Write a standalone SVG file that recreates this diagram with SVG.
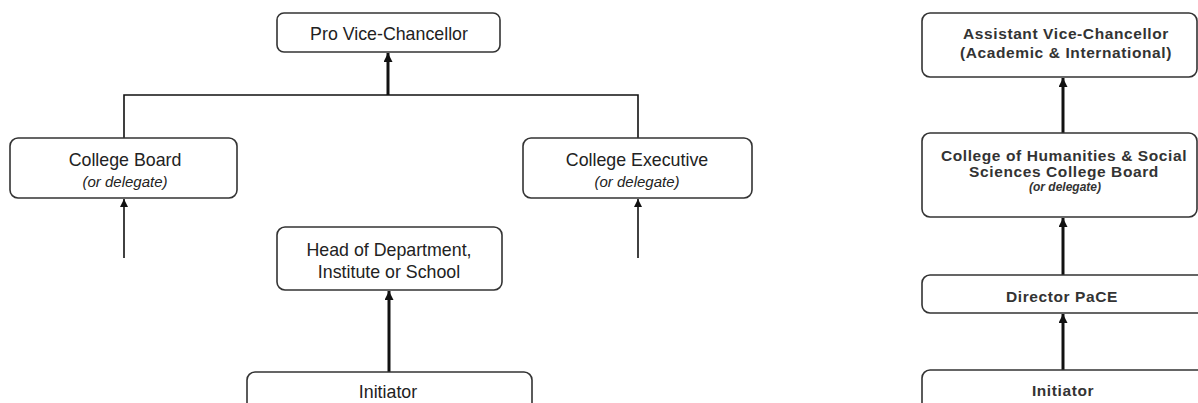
<svg xmlns="http://www.w3.org/2000/svg" width="1198" height="403" viewBox="0 0 1198 403">
<style>
.box{fill:#fff;stroke:#333;stroke-width:1.6}
.t{font-family:"Liberation Sans",Arial,sans-serif;font-size:17.8px;fill:#222;text-anchor:middle}
.ti{font-family:"Liberation Sans",Arial,sans-serif;font-size:15px;font-style:italic;fill:#222;text-anchor:middle}
.tb{font-family:"Liberation Sans",Arial,sans-serif;font-size:15.5px;font-weight:bold;fill:#333;text-anchor:middle;letter-spacing:0.6px}
.tbi{font-family:"Liberation Sans",Arial,sans-serif;font-size:12px;font-weight:bold;font-style:italic;fill:#333;text-anchor:middle}
.ln{fill:none;stroke:#111;stroke-width:1.6}
.lnt{fill:none;stroke:#111;stroke-width:3}
</style>
<defs>
<marker id="ah" viewBox="0 0 10 10" refX="10" refY="5" markerWidth="8" markerHeight="8" markerUnits="userSpaceOnUse" orient="auto">
<path d="M0,0 L10,5 L0,10 z" fill="#111"/>
</marker>
<marker id="ah2" viewBox="0 0 10 10" refX="10" refY="5" markerWidth="9" markerHeight="9" markerUnits="userSpaceOnUse" orient="auto">
<path d="M0,0 L10,5 L0,10 z" fill="#111"/>
</marker>
</defs>
<rect width="1198" height="403" fill="#fff"/>
<g id="connectors">
<path class="ln" d="M124,138 V95 H638 V138"/>
<path class="lnt" d="M388,95 V53" marker-end="url(#ah2)"/>
<path class="ln" d="M124,258 V199" marker-end="url(#ah)"/>
<path class="ln" d="M638,258 V199" marker-end="url(#ah)"/>
<path class="lnt" d="M389,372 V291" marker-end="url(#ah2)"/>
<path class="lnt" d="M1063,133 V78" marker-end="url(#ah2)"/>
<path class="lnt" d="M1063,275 V218" marker-end="url(#ah2)"/>
<path class="lnt" d="M1063,370 V314" marker-end="url(#ah2)"/>
</g>
<g id="pvc">
<rect class="box" x="277" y="13" width="223" height="39" rx="7"/>
<text class="t" x="389" y="40">Pro Vice-Chancellor</text>
</g>
<g id="college-board">
<rect class="box" x="10" y="138" width="227" height="60" rx="8"/>
<text class="t" x="125" y="166">College Board</text>
<text class="ti" x="125" y="187">(or delegate)</text>
</g>
<g id="college-executive">
<rect class="box" x="523" y="138" width="229" height="60" rx="8"/>
<text class="t" x="637" y="166">College Executive</text>
<text class="ti" x="637" y="187">(or delegate)</text>
</g>
<g id="hod">
<rect class="box" x="277" y="227" width="225" height="63" rx="8"/>
<text class="t" x="389" y="256">Head of Department,</text>
<text class="t" x="389" y="278">Institute or School</text>
</g>
<g id="initiator-left">
<rect class="box" x="247" y="372" width="285" height="60" rx="8"/>
<text class="t" x="388" y="398">Initiator</text>
</g>
<g id="avc">
<rect class="box" x="922" y="13" width="275" height="64" rx="8"/>
<text class="tb" x="1066" y="39">Assistant Vice-Chancellor</text>
<text class="tb" x="1066" y="58">(Academic &amp; International)</text>
</g>
<g id="chss">
<rect class="box" x="922" y="133" width="275" height="84" rx="8"/>
<text class="tb" x="1064" y="161">College of Humanities &amp; Social</text>
<text class="tb" x="1064" y="177">Sciences College Board</text>
<text class="tbi" x="1065" y="191">(or delegate)</text>
</g>
<g id="director">
<rect class="box" x="922" y="275" width="290" height="38" rx="8"/>
<text class="tb" x="1062" y="302">Director PaCE</text>
</g>
<g id="initiator-right">
<rect class="box" x="922" y="370" width="290" height="60" rx="8"/>
<text class="tb" x="1063" y="396">Initiator</text>
</g>
</svg>
